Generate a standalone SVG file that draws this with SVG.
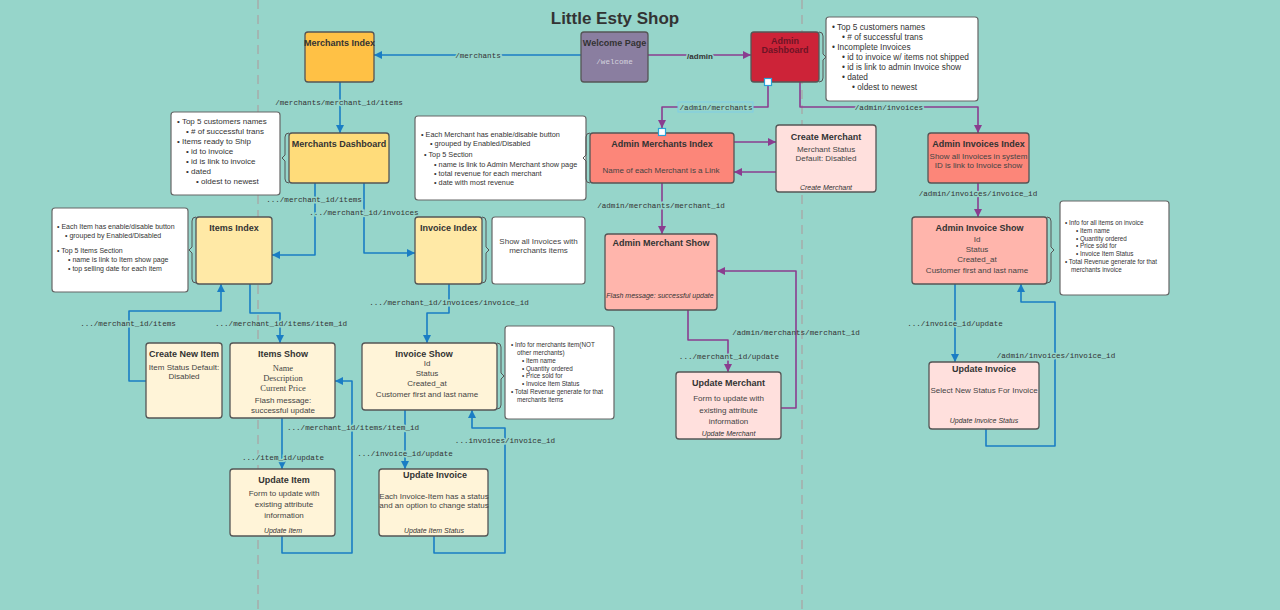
<svg xmlns="http://www.w3.org/2000/svg" width="1280" height="610" viewBox="0 0 1280 610">
<defs>
<marker id="ab" viewBox="0 0 10 10" refX="10" refY="5" markerWidth="8" markerHeight="8" markerUnits="userSpaceOnUse" orient="auto"><path d="M0,0 L10,5 L0,10 z" fill="#1a7dc4"/></marker>
<marker id="ap" viewBox="0 0 10 10" refX="10" refY="5" markerWidth="8" markerHeight="8" markerUnits="userSpaceOnUse" orient="auto"><path d="M0,0 L10,5 L0,10 z" fill="#8a3d8f"/></marker>
<style>
.n{stroke:#555;stroke-width:1.3}
.note{fill:#fff;stroke:#666;stroke-width:1.2}
.br{fill:none;stroke:#555;stroke-width:1}
.t{font-family:"Liberation Sans",Arial,sans-serif;font-weight:bold;font-size:9px;fill:#333;text-anchor:middle}
.b{font-family:"Liberation Sans",Arial,sans-serif;font-size:8px;fill:#444;text-anchor:middle}
.i{font-family:"Liberation Sans",Arial,sans-serif;font-size:7px;font-style:italic;fill:#333;text-anchor:middle}
.s{font-family:"Liberation Serif","Times New Roman",serif;font-size:8.5px;fill:#444;text-anchor:middle}
.l{font-family:"Liberation Sans",Arial,sans-serif;fill:#333}
.m{font-family:"Liberation Mono","Courier New",monospace;font-size:7.6px;fill:#333;text-anchor:middle}
.bg{stroke:#96d5ca;stroke-width:3;paint-order:stroke}
.cb{fill:none;stroke:#1a7dc4;stroke-width:1.6;stroke-linejoin:round}
.cp{fill:none;stroke:#8a3d8f;stroke-width:1.6;stroke-linejoin:round}
.h{fill:#fff;stroke:#2aa2d8;stroke-width:1.2}
</style>
</defs>
<rect width="1280" height="610" fill="#96d5ca"/>
<line x1="258" y1="0" x2="258" y2="610" stroke="#a2b6b2" stroke-width="2" stroke-dasharray="9 6"/>
<line x1="802" y1="0" x2="802" y2="610" stroke="#a2b6b2" stroke-width="2" stroke-dasharray="9 6"/>
<text x="615" y="24" font-family="'Liberation Sans',Arial,sans-serif" font-weight="bold" font-size="17" fill="#333" text-anchor="middle">Little Esty Shop</text>

<g id="connectors">
<path class="cb" d="M581,55 H374" marker-end="url(#ab)"/>
<path class="cb" d="M340,82 V133" marker-end="url(#ab)"/>
<path class="cb" d="M315,183 V255 H272" marker-end="url(#ab)"/>
<path class="cb" d="M364,183 V253 H415" marker-end="url(#ab)"/>
<path class="cb" d="M250,284 V313 H280 V343" marker-end="url(#ab)"/>
<path class="cb" d="M146,381 H129 V311 H221 V284" marker-end="url(#ab)"/>
<path class="cb" d="M449,284 V313 H427 V343" marker-end="url(#ab)"/>
<path class="cb" d="M282,418 V469" marker-end="url(#ab)"/>
<path class="cb" d="M282,536 V553 H352 V381 H335" marker-end="url(#ab)"/>
<path class="cb" d="M405,410 V469" marker-end="url(#ab)"/>
<path class="cb" d="M434,536 V553 H505 V428 H472 V410" marker-end="url(#ab)"/>
<path class="cb" d="M955,284 V362" marker-end="url(#ab)"/>
<path class="cb" d="M986,429 V446 H1055 V302 H1021 V284" marker-end="url(#ab)"/>
<path class="cp" d="M648,55 H751" marker-end="url(#ap)"/>
<path class="cp" d="M768,85 V107 H662 V128" marker-end="url(#ap)"/>
<path class="cp" d="M800,82 V107 H978 V133" marker-end="url(#ap)"/>
<path class="cp" d="M734,142 H776" marker-end="url(#ap)"/>
<path class="cp" d="M776,172 H734" marker-end="url(#ap)"/>
<path class="cp" d="M662,183 V234" marker-end="url(#ap)"/>
<path class="cp" d="M688,310 V340 H728 V372" marker-end="url(#ap)"/>
<path class="cp" d="M781,408 H796 V271 H717" marker-end="url(#ap)"/>
<path class="cp" d="M978,183 V217" marker-end="url(#ap)"/>
<text class="m bg" x="478" y="57.5" font-size="6.7">/merchants</text>
<text class="m bg" x="339" y="104.5">/merchants/merchant_id/items</text>
<text class="m bg" x="314" y="201.5">.../merchant_id/items</text>
<text class="m bg" x="364" y="214.5">.../merchant_id/invoices</text>
<text class="m bg" x="128" y="325.5">.../merchant_id/items</text>
<text class="m bg" x="281" y="325.5">.../merchant_id/items/item_id</text>
<text class="m bg" x="449" y="304.5">.../merchant_id/invoices/invoice_id</text>
<text class="m bg" x="283" y="459.5">.../item_id/update</text>
<text class="m bg" x="353" y="429.5">.../merchant_id/items/item_id</text>
<text class="m bg" x="405" y="455.5">.../invoice_id/update</text>
<text class="m bg" x="505" y="442.5">...invoices/invoice_id</text>
<text class="l bg" x="700" y="59" font-size="8" font-weight="bold" text-anchor="middle">/admin</text>
<rect x="678" y="102" width="75" height="10" fill="#96d5ca" stroke="#7fcde6" stroke-width="1"/>
<text class="m" x="716" y="109.5">/admin/merchants</text>
<text class="m bg" x="889" y="109.5">/admin/invoices</text>
<text class="m bg" x="661" y="207.5">/admin/merchants/merchant_id</text>
<text class="m bg" x="729" y="358.5">.../merchant_id/update</text>
<text class="m" x="796" y="334.5">/admin/merchants/merchant_id</text>
<text class="m bg" x="978" y="195.5">/admin/invoices/invoice_id</text>
<text class="m bg" x="955" y="325.5">.../invoice_id/update</text>
<text class="m bg" x="1056" y="357.5">/admin/invoices/invoice_id</text>
</g>

<g id="merchants-index">
<rect class="n" x="305" y="32" width="69" height="50" rx="3" fill="#ffc145"/>
<text class="t" x="339.5" y="46" font-size="8.5">Merchants Index</text>
</g>
<g id="welcome-page">
<rect class="n" x="581" y="32" width="67" height="50" rx="3" fill="#8a7ea0"/>
<text class="t" x="614.5" y="46" font-size="9">Welcome Page</text>
<text class="m" x="614.5" y="63.5" font-size="7" style="fill:#d4d2de">/welcome</text>
</g>
<g id="admin-dashboard">
<rect class="n" x="751" y="32" width="68" height="50" rx="3" fill="#cd2338"/>
<text class="t" x="785" y="43.5" font-size="7" style="fill:#6e1426">Admin</text>
<text class="t" x="785" y="52.5" font-size="7" style="fill:#6e1426">Dashboard</text>
<path class="br" d="M819,32 q4,0 4,4 v18 l3,3 l-3,3 v18 q0,4 -4,4"/>
<rect class="h" x="764.5" y="78.5" width="7" height="7"/>
</g>
<g id="admin-dashboard-note">
<rect class="note" x="826" y="17" width="152" height="84" rx="3"/>
<g class="l" font-size="8.3">
<text x="832" y="30">• Top 5 customers names</text>
<text x="842" y="40">• # of successful trans</text>
<text x="832" y="50">• Incomplete Invoices</text>
<text x="842" y="60">• id to invoice w/ items not shipped</text>
<text x="842" y="70">• id is link to admin Invoice show</text>
<text x="842" y="80">• dated</text>
<text x="852" y="90">• oldest to newest</text>
</g>
</g>
<g id="merchants-dashboard">
<rect class="n" x="289" y="133" width="100" height="50" rx="3" fill="#ffdc7a"/>
<text class="t" x="339" y="147" font-size="8.5">Merchants Dashboard</text>
<path class="br" d="M289,133 q-4,0 -4,4 v18 l-3,3 l3,3 v18 q0,4 4,4"/>
</g>
<g id="merchants-dashboard-note">
<rect class="note" x="171" y="112" width="109" height="83" rx="3"/>
<g class="l" font-size="8">
<text x="177" y="124">• Top 5 customers names</text>
<text x="186" y="134">• # of successful trans</text>
<text x="177" y="144">• Items ready to Ship</text>
<text x="186" y="154">• id to invoice</text>
<text x="186" y="164">• id is link to invoice</text>
<text x="186" y="174">• dated</text>
<text x="196" y="184">• oldest to newest</text>
</g>
</g>
<g id="admin-merchants-note">
<rect class="note" x="415" y="116" width="171" height="84" rx="3"/>
<g class="l" font-size="7.3">
<text x="421" y="137">• Each Merchant has enable/disable button</text>
<text x="430" y="146">• grouped by Enabled/Disabled</text>
<text x="424" y="157">• Top 5  Section</text>
<text x="434" y="167">• name is link to  Admin Merchant show page</text>
<text x="434" y="176">• total revenue for each merchant</text>
<text x="434" y="185">• date with most revenue</text>
</g>
</g>
<g id="admin-merchants-index">
<rect class="n" x="590" y="133" width="144" height="50" rx="3" fill="#fc8679"/>
<text class="t" x="662" y="147" font-size="8.5">Admin Merchants Index</text>
<text class="b" x="661" y="172.5" font-size="8.3">Name of each Merchant is a Link</text>
<path class="br" d="M590,133 q-4,0 -4,4 v18 l-3,3 l3,3 v18 q0,4 4,4"/>
<rect class="h" x="658.5" y="128.5" width="7" height="7"/>
</g>
<g id="create-merchant">
<rect class="n" x="776" y="125" width="100" height="67" rx="3" fill="#ffe0dd"/>
<text class="t" x="826" y="140">Create Merchant</text>
<text class="b" x="826" y="152" font-size="7">Merchant Status</text>
<text class="b" x="826" y="161" font-size="7">Default: Disabled</text>
<text class="i" x="826" y="190">Create Merchant</text>
</g>
<g id="admin-invoices-index">
<rect class="n" x="928" y="133" width="101" height="50" rx="3" fill="#fc8679"/>
<text class="t" x="978.5" y="147" font-size="8.5">Admin Invoices Index</text>
<text class="b" x="978.5" y="158.5" font-size="6.6">Show all Invoices in system</text>
<text class="b" x="978.5" y="167.5" font-size="6.6">ID is link to Invoice show</text>
</g>
<g id="items-index-note">
<rect class="note" x="52" y="208" width="136" height="84" rx="3"/>
<g class="l" font-size="7">
<text x="57" y="229">• Each Item has enable/disable button</text>
<text x="65" y="238">• grouped by Enabled/Disabled</text>
<text x="57" y="253">• Top 5 Items Section</text>
<text x="68" y="262">• name is link to Item show page</text>
<text x="68" y="271">• top selling date for each item</text>
</g>
</g>
<g id="items-index">
<rect class="n" x="196" y="217" width="76" height="67" rx="3" fill="#ffe9a6"/>
<text class="t" x="234" y="231">Items Index</text>
<path class="br" d="M196,217 q-4,0 -4,4 v26 l-3,3 l3,3 v26 q0,4 4,4"/>
</g>
<g id="invoice-index">
<rect class="n" x="415" y="217" width="67" height="67" rx="3" fill="#ffe9a6"/>
<text class="t" x="448.5" y="231">Invoice Index</text>
<path class="br" d="M482,217 q4,0 4,4 v26 l3,3 l-3,3 v26 q0,4 -4,4"/>
</g>
<g id="invoice-index-note">
<rect class="note" x="492" y="217" width="93" height="67" rx="3"/>
<text class="b" x="538.5" y="244" font-size="7">Show all Invoices with</text>
<text class="b" x="538.5" y="253" font-size="7">merchants items</text>
</g>
<g id="admin-merchant-show">
<rect class="n" x="605" y="234" width="112" height="76" rx="3" fill="#ffb5ac"/>
<text class="t" x="661" y="246">Admin Merchant Show</text>
<text class="i" x="660" y="298" font-size="5.9">Flash message: successful update</text>
</g>
<g id="admin-invoice-show">
<rect class="n" x="912" y="217" width="135" height="67" rx="3" fill="#ffb5ac"/>
<text class="t" x="979.5" y="231">Admin Invoice Show</text>
<text class="b" x="977" y="242" font-size="8.5">Id</text>
<text class="b" x="977" y="252" font-size="8.5">Status</text>
<text class="b" x="977" y="262" font-size="8.5">Created_at</text>
<text class="b" x="977" y="273" font-size="8.5">Customer first and last name</text>
<path class="br" d="M1047,217 q4,0 4,4 v26 l3,3 l-3,3 v26 q0,4 -4,4"/>
</g>
<g id="admin-invoice-show-note">
<rect class="note" x="1060" y="201" width="109" height="94" rx="3"/>
<g class="l" font-size="6.3">
<text x="1065" y="225">• Info for all items on invoice</text>
<text x="1076" y="233">• Item name</text>
<text x="1076" y="241">• Quantity ordered</text>
<text x="1076" y="248">• Price sold for</text>
<text x="1076" y="256">• Invoice Item Status</text>
<text x="1065" y="264">• Total Revenue generate for that</text>
<text x="1071" y="272">merchants invoice</text>
</g>
</g>
<g id="create-new-item">
<rect class="n" x="146" y="343" width="76" height="75" rx="3" fill="#fff4d8"/>
<text class="t" x="184" y="357">Create New Item</text>
<text class="b" x="184" y="369.5" font-size="6.8">Item Status Default:</text>
<text class="b" x="184" y="378.5" font-size="6.8">Disabled</text>
</g>
<g id="items-show">
<rect class="n" x="230" y="343" width="105" height="75" rx="3" fill="#fff4d8"/>
<text class="t" x="283" y="357">Items Show</text>
<text class="s" x="283" y="371">Name</text>
<text class="s" x="283" y="381">Description</text>
<text class="s" x="283" y="391">Current Price</text>
<text class="b" x="283" y="403" font-size="8.5">Flash message:</text>
<text class="b" x="283" y="413" font-size="8.5">successful update</text>
</g>
<g id="invoice-show">
<rect class="n" x="362" y="343" width="135" height="67" rx="3" fill="#fff4d8"/>
<text class="t" x="424" y="357">Invoice Show</text>
<text class="b" x="427" y="366" font-size="8.5">Id</text>
<text class="b" x="427" y="376" font-size="8.5">Status</text>
<text class="b" x="427" y="386" font-size="8.5">Created_at</text>
<text class="b" x="427" y="396.5" font-size="8.5">Customer first and last name</text>
<path class="br" d="M497,343 q4,0 4,4 v26 l3,3 l-3,3 v26 q0,4 -4,4"/>
</g>
<g id="invoice-show-note">
<rect class="note" x="505" y="326" width="109" height="93" rx="3"/>
<g class="l" font-size="6.3">
<text x="511" y="347">• Info for merchants item(NOT</text>
<text x="517" y="355">other merchants)</text>
<text x="522" y="363">• Item name</text>
<text x="522" y="371">• Quantity ordered</text>
<text x="522" y="378">• Price sold for</text>
<text x="522" y="386">• Invoice Item Status</text>
<text x="511" y="394">• Total Revenue generate for that</text>
<text x="517" y="402">merchants items</text>
</g>
</g>
<g id="update-merchant">
<rect class="n" x="676" y="372" width="105" height="67" rx="3" fill="#ffe0dd"/>
<text class="t" x="728.5" y="386">Update Merchant</text>
<text class="b" x="728.5" y="401" font-size="9.8">Form to update with</text>
<text class="b" x="728.5" y="412.5" font-size="9.8">existing attribute</text>
<text class="b" x="728.5" y="423.5" font-size="9.8">information</text>
<text class="i" x="728.5" y="436">Update Merchant</text>
</g>
<g id="admin-update-invoice">
<rect class="n" x="929" y="362" width="110" height="67" rx="3" fill="#ffe0dd"/>
<text class="t" x="984" y="372">Update Invoice</text>
<text class="b" x="984" y="393" font-size="6.7">Select New Status For Invoice</text>
<text class="i" x="984" y="423">Update Invoice Status</text>
</g>
<g id="update-item">
<rect class="n" x="230" y="469" width="105" height="67" rx="3" fill="#fff4d8"/>
<text class="t" x="284" y="483">Update Item</text>
<text class="b" x="284" y="495.5" font-size="9.8">Form to update with</text>
<text class="b" x="284" y="507" font-size="9.8">existing attribute</text>
<text class="b" x="284" y="518" font-size="9.8">information</text>
<text class="i" x="283" y="533">Update Item</text>
</g>
<g id="update-invoice">
<rect class="n" x="379" y="469" width="109" height="67" rx="3" fill="#fff4d8"/>
<text class="t" x="435" y="478">Update Invoice</text>
<text class="b" x="434" y="498.5" font-size="6.3">Each Invoice-Item  has a status</text>
<text class="b" x="434" y="507.5" font-size="6.3">and an option to change status</text>
<text class="i" x="434" y="533">Update Item Status</text>
</g>
</svg>
